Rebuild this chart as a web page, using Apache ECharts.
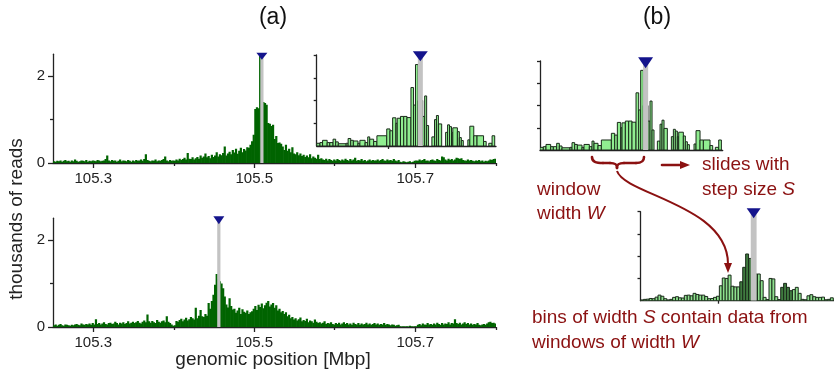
<!DOCTYPE html>
<html>
<head>
<meta charset="utf-8">
<script src="https://cdn.jsdelivr.net/npm/echarts@6.0.0/dist/echarts.min.js"></script>
<style>
html, body { margin: 0; padding: 0; background: #fff; }
#chart { width: 834px; height: 369px; }
</style>
</head>
<body>
<div id="chart"></div>
<script>
// (a) reads per 2 kbp bin, starting at 105.25 Mbp
var binStart = 105.25, binMbp = 0.002;
var upperReads = [
  40,30,50,40,60,30,50,70,40,50,30,60,40,80,50,30,40,60,50,40,70,30,50,40,60,
  50,40,70,60,40,50,60,90,170,60,40,70,50,60,30,50,80,40,60,50,40,70,50,30,60,
  40,70,50,60,80,50,90,200,70,50,40,60,50,80,40,60,50,70,90,150,60,40,70,50,60,
  50,80,60,100,70,90,120,80,230,100,90,130,80,110,140,100,170,120,150,220,130,160,110,190,140,
  170,250,150,200,180,230,380,170,220,260,200,300,240,330,210,280,350,250,320,290,360,350,420,500,650,
  1240,1280,1260,2480,1500,1400,1380,1340,920,900,850,880,550,620,460,470,440,380,300,420,280,330,250,360,220,
  200,250,180,220,160,190,140,170,130,200,110,150,120,100,190,90,110,80,70,100,60,90,70,50,80,
  60,90,70,50,80,60,100,70,50,90,60,80,120,50,70,60,90,50,70,40,60,80,50,70,60,
  60,80,50,70,90,60,50,80,60,70,50,90,60,40,70,30,20,40,30,20,30,40,20,30,50,
  60,50,80,60,70,90,50,60,40,70,80,60,50,90,70,60,150,130,80,60,100,70,90,60,80,
  120,110,90,110,70,60,50,80,60,70,50,40,60,50,70,40,60,30,50,40,60,80,70,90,100
];
var lowerReads = [
  40,60,30,50,70,40,30,60,50,40,30,50,40,60,70,50,40,80,60,50,70,60,80,50,90,
  60,180,70,90,60,80,110,70,60,90,100,70,80,120,90,60,100,80,110,70,90,130,80,100,120,
  90,110,140,100,80,120,150,110,290,130,100,140,110,90,160,120,100,130,150,110,250,120,90,60,30,
  40,140,120,160,190,130,170,210,150,180,230,200,170,440,200,260,390,250,230,300,260,550,420,600,740,
  970,1220,1100,1050,1000,890,700,520,450,660,480,400,420,330,380,440,300,410,350,330,380,300,340,360,420,
  480,390,510,460,540,430,500,560,600,470,520,550,440,500,380,420,340,370,300,340,250,280,200,230,170,
  200,150,180,220,130,160,140,190,110,150,130,100,170,120,90,110,80,100,130,70,90,80,110,70,60,
  90,70,100,60,80,110,70,90,60,80,50,100,70,60,90,50,80,60,70,100,60,80,50,70,90,
  60,80,50,70,60,90,50,70,60,40,60,50,30,40,50,20,10,20,10,20,10,30,20,10,20,
  20,50,70,40,80,60,50,90,60,70,50,80,60,100,70,50,90,60,80,70,110,60,90,80,180,
  90,70,100,60,80,110,70,90,60,80,50,70,60,90,50,40,60,70,50,80,110,120,90,100,80
];
var upperPeak = [105.5075, 105.5115];
var lowerPeak = [105.454, 105.458];
var majorTicks = [105.3, 105.5, 105.7];
var minorTicks = [105.4, 105.6, 105.8];

// zoomed histogram with variable bins, kbp from the left edge of the window
var zoomEdges = [0,0.91,1.64,2.92,3.65,4.56,5.29,6.02,8.21,8.76,9.49,10.22,11.5,12.04,13.5,14.23,14.78,15.88,16.79,19.53,
  20.44,21.17,22.08,22.45,23.36,24.27,25.18,26.28,27.01,27.55,28.28,29.56,30.11,30.66,31.2,32.12,32.85,33.39,33.94,34.85,
  35.95,36.5,37.04,37.59,37.96,39.23,39.78,40.33,40.88,42.15,42.7,43.8,44.71,46.53,47.26,47.99,48.91,49.64];
var zoomVals = [0.12,0.15,0.25,0.15,0.15,0.3,0.18,0.1,0.12,0.33,0.25,0.22,0.12,0.25,0.15,0.4,0.3,0.2,0.45,0.75,
  0.67,1.24,1.0,1.22,1.3,1.3,1.25,2.57,1.8,3.58,2.0,1.3,2.2,0.9,0,0.4,1.16,1.34,0.97,0,
  0.6,0.93,0.85,0.6,0.8,0.63,0.37,0.24,0,0.27,0.87,0.45,0.45,0.2,0,0.12,0.45];
var zoomPeak = [28.2, 29.6];

// (b) sliding window bins, S = 0.8 kbp
var slideBin = 0.8;
var slideLight = [0.03,0.06,0.07,0.1,0.09,0.16,0.25,0.2,0.09,0.03,0.06,0.15,0.18,0.13,0.12,0.24,0.25,0.22,0.33,0.28,
  0.25,0.25,0.19,0.09,0.1,0.15,0.2,0.67,1.02,1.0,1.15,0.65,0.62,0.62,0,0,0,0,0,0,
  1.2,0.9,0.15,0.05,1.0,0.98,0.18,0.05,0,0,0,0,0.5,0.6,0.33,0.06,0.04,0.22,0.27,0.18,0.15,0.15,0.16,0.04,0.06,0.13];
var slideDark = [0,0,0,0,0,0,0,0,0,0,0,0,0,0,0,0,0,0,0,0,
  0,0,0,0,0,0,0,0,0,0,0,0,0,0,0.85,1.5,2.1,1.9,1.4,1.2,
  0,0,0,0,0,0,0,0,0.6,0.78,0.6,0.45,0,0,0,0,0,0,0,0,0,0,0,0,0,0];
var slidePeak = [30.2, 31.8];

var FONT = '"Liberation Sans", Arial, sans-serif';
var INK = '#222';
var RED = '#8b1111';
var chart = echarts.init(document.getElementById('chart'));

function fixedBins(vals, start, w, scale) {
  return vals.map(function (v, i) { return [start + i * w, start + (i + 1) * w, v * scale]; });
}
function edgeBins(edges, vals) {
  return vals.map(function (v, i) { return [edges[i], edges[i + 1], v]; });
}
function barItem(fill, stroke) {
  return function (params, api) {
    if (api.value(2) <= 0) return null;
    var a = api.coord([api.value(0), api.value(2)]);
    var b = api.coord([api.value(1), 0]);
    return {
      type: 'rect',
      shape: { x: a[0], y: a[1], width: b[0] - a[0] + (stroke ? 0 : 0.6), height: b[1] - a[1] },
      style: { fill: fill, stroke: stroke || null, lineWidth: stroke ? 1 : 0 }
    };
  };
}
function bandItem(params, api) {
  var a = api.coord([api.value(0), api.value(2)]);
  var b = api.coord([api.value(1), 0]);
  return { type: 'rect', shape: { x: a[0], y: a[1], width: b[0] - a[0], height: b[1] - a[1] }, style: { fill: '#c3c3c3' } };
}
function markerItem(w, h, dy) {
  return function (params, api) {
    var p = api.coord([api.value(0), api.value(1)]);
    var y = p[1] + dy;
    return { type: 'polygon', shape: { points: [[p[0] - w / 2, y - h / 2], [p[0] + w / 2, y - h / 2], [p[0], y + h / 2]] }, style: { fill: '#14148c' } };
  };
}

function axis(grid, min, max, line) {
  return {
    type: 'value', gridIndex: grid, min: min, max: max,
    axisLine: { show: line, onZero: false, lineStyle: { color: INK, width: 1.3 } },
    axisTick: { show: false }, axisLabel: { show: false }, splitLine: { show: false }
  };
}
function withTicks(ax, vals, len) {
  ax.axisTick = { show: true, customValues: vals, length: len, lineStyle: { color: INK, width: 1.3 } };
  return ax;
}
function withLabels(ax, vals, fmt) {
  ax.axisLabel = { show: true, customValues: vals, margin: 8, color: INK, fontSize: 15, fontFamily: FONT, formatter: fmt };
  return ax;
}
function leftAxis(ax) { ax.position = 'left'; return ax; }
function bottomAxis(ax) { ax.position = 'bottom'; return ax; }
var mbp = function (v) { return v.toFixed(1); };
var num = function (v) { return String(v); };

var xAxes = [
  bottomAxis(withLabels(withTicks(axis(0, 105.25, 105.8, true), majorTicks, 5), majorTicks, mbp)),
  bottomAxis(withTicks(axis(0, 105.25, 105.8, false), minorTicks, 3)),
  bottomAxis(withTicks(axis(1, 0, 50, true), [20], 3)),
  bottomAxis(withLabels(withTicks(axis(2, 105.25, 105.8, true), majorTicks, 5), majorTicks, mbp)),
  bottomAxis(withTicks(axis(2, 105.25, 105.8, false), minorTicks, 3)),
  bottomAxis(axis(3, 0, 50, true)),
  bottomAxis(withTicks(axis(4, 0, 53, true), [21.4], 3))
];
var yAxes = [
  leftAxis(withLabels(withTicks(axis(0, 0, 2.5, true), [0, 2], 5), [0, 2], num)),
  leftAxis(withTicks(axis(0, 0, 2.5, false), [1], 3)),
  leftAxis(withTicks(axis(1, 0, 4, true), [1, 2, 3, 4], 3)),
  leftAxis(withLabels(withTicks(axis(2, 0, 2.5, true), [0, 2], 5), [0, 2], num)),
  leftAxis(withTicks(axis(2, 0, 2.5, false), [1], 3)),
  leftAxis(withTicks(axis(3, 0, 4, true), [1, 2, 3, 4], 3)),
  leftAxis(withTicks(axis(4, 0, 4, true), [1, 2, 3, 4], 3))
];

function custom(ax, data, render, z, clip) {
  return { type: 'custom', xAxisIndex: ax, yAxisIndex: ax, data: data, renderItem: render, encode: { x: [0, 1], y: 2 }, z: z, clip: clip, silent: true };
}
function marker(ax, x, top, w, h, dy) {
  return { type: 'custom', xAxisIndex: ax, yAxisIndex: ax, data: [[x, top]], renderItem: markerItem(w, h, dy), encode: { x: 0, y: 1 }, z: 5, clip: false, silent: true };
}

var zoomData = edgeBins(zoomEdges, zoomVals);
var lightGreen = '#90ee90', edge = '#1a2a1a';

var series = [
  custom(0, fixedBins(upperReads, binStart, binMbp, 0.001), barItem('#006400'), 2, true),
  custom(0, [[upperPeak[0], upperPeak[1], 2.5]], bandItem, 3, true),
  marker(0, (upperPeak[0] + upperPeak[1]) / 2, 2.5, 11, 7, 2),
  custom(2, zoomData, barItem(lightGreen, edge), 2, true),
  custom(2, [[zoomPeak[0], zoomPeak[1], 3.9]], bandItem, 3, true),
  marker(2, (zoomPeak[0] + zoomPeak[1]) / 2, 4, 15, 10, 1.3),
  custom(3, fixedBins(lowerReads, binStart, binMbp, 0.001), barItem('#006400'), 2, true),
  custom(3, [[lowerPeak[0], lowerPeak[1], 2.5]], bandItem, 3, true),
  marker(3, (lowerPeak[0] + lowerPeak[1]) / 2, 2.5, 11, 8, 2),
  custom(5, zoomData, barItem(lightGreen, edge), 2, true),
  custom(5, [[zoomPeak[0], zoomPeak[1], 3.9]], bandItem, 3, true),
  marker(5, (zoomPeak[0] + zoomPeak[1]) / 2, 4, 15, 11, 1.7),
  custom(6, fixedBins(slideLight, 0, slideBin, 1), barItem('#8ee08e', edge), 2, true),
  custom(6, fixedBins(slideDark, 0, slideBin, 1), barItem('#3f7a3f', edge), 2, true),
  custom(6, [[slidePeak[0], slidePeak[1], 3.9]], bandItem, 3, true),
  marker(6, (slidePeak[0] + slidePeak[1]) / 2, 4, 14, 10, 1.6)
];

function label(x, y, text, size, color, extra) {
  var el = { type: 'text', x: x, y: y, z: 10, silent: true,
    style: { text: text, fontSize: size, fontFamily: FONT, fill: color, align: 'left', verticalAlign: 'middle' } };
  if (extra) for (var k in extra) el.style[k] = extra[k];
  return el;
}
var richRed = { n: { fontSize: 19, fontFamily: FONT, fill: RED }, i: { fontSize: 19, fontFamily: FONT, fill: RED, fontStyle: 'italic' } };
function redLine(x, y, text) {
  return label(x, y, text, 19, RED, { rich: richRed });
}
var redStroke = { stroke: RED, fill: null, lineWidth: 2.6, lineCap: 'round', lineJoin: 'round' };
function curve(x1, y1, c1x, c1y, c2x, c2y, x2, y2, style) {
  return { type: 'bezierCurve', silent: true, z: 10,
    shape: { x1: x1, y1: y1, cpx1: c1x, cpy1: c1y, cpx2: c2x, cpy2: c2y, x2: x2, y2: y2 }, style: style || redStroke };
}
function seg(x1, y1, x2, y2) {
  return { type: 'line', silent: true, z: 10, shape: { x1: x1, y1: y1, x2: x2, y2: y2 }, style: redStroke };
}

var graphics = [
  label(273, 18, '(a)', 23, '#111', { align: 'center' }),
  label(657, 18, '(b)', 23, '#111', { align: 'center' }),
  { type: 'text', x: 17, y: 219, rotation: Math.PI / 2, silent: true,
    style: { text: 'thousands of reads', fontSize: 19, fontFamily: FONT, fill: INK, align: 'center', verticalAlign: 'middle' } },
  label(273, 360, 'genomic position [Mbp]', 19, INK, { align: 'center' }),
  redLine(702, 165, '{n|slides with}'),
  redLine(702, 190, '{n|step size }{i|S}'),
  redLine(537, 190, '{n|window}'),
  redLine(537, 214, '{n|width }{i|W}'),
  redLine(532, 318, '{n|bins of width }{i|S}{n| contain data from}'),
  redLine(532, 343, '{n|windows of width }{i|W}'),
  // curly brace under the window
  curve(592, 157, 592, 162, 596, 163, 603, 163),
  seg(603, 163, 610, 163),
  curve(610, 163, 615, 163, 617, 164, 617, 168),
  curve(617, 168, 617, 164, 619, 163, 624, 163),
  seg(624, 163, 636, 163),
  curve(636, 163, 641, 163, 644, 162, 644, 157),
  // slide arrow
  seg(662, 165, 682, 165),
  { type: 'polygon', silent: true, z: 10, shape: { points: [[680, 161], [690, 165], [680, 169]] }, style: { fill: RED } },
  // curved arrow to the binned histogram
  curve(617, 171, 625, 195, 728, 205, 728, 264, { stroke: RED, fill: null, lineWidth: 2 }),
  { type: 'polygon', silent: true, z: 10, shape: { points: [[724, 263], [732, 263], [728, 273]] }, style: { fill: RED } }
];

var grids = [
  { left: 53, top: 54.25, width: 442.75, height: 108.75 },
  { left: 316.7, top: 55, width: 179.3, height: 91 },
  { left: 53, top: 218.25, width: 442.75, height: 108.75 },
  { left: 540, top: 61, width: 182.7, height: 89 },
  { left: 640.5, top: 211.7, width: 193.5, height: 89 }
].map(function (g) { g.containLabel = false; g.outerBoundsMode = 'none'; return g; });

chart.setOption({
  animation: false,
  backgroundColor: '#fff',
  grid: grids,
  xAxis: xAxes,
  yAxis: yAxes,
  series: series,
  graphic: graphics
});
</script>
</body>
</html>
